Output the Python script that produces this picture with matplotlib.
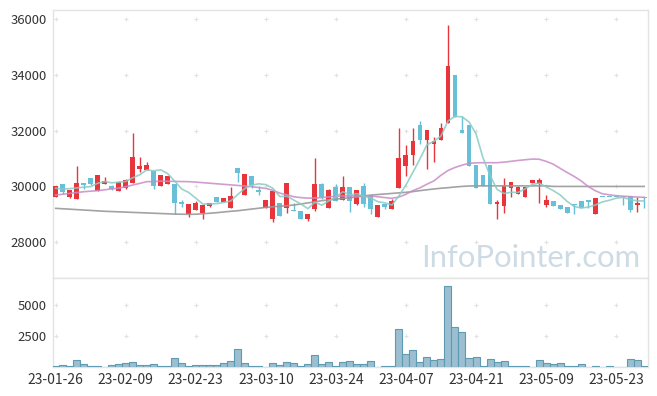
import matplotlib
matplotlib.use("Agg")
import matplotlib.pyplot as plt
import numpy as np
import pandas as pd

# ---- data ----
tick_labels = ['23-01-26', '23-02-09', '23-02-23', '23-03-10', '23-03-24',
               '23-04-07', '23-04-21', '23-05-09', '23-05-23']
tick_pos = [0, 10, 20, 30, 40, 50, 60, 70, 80]

opens = [29620, 30070, 29635, 29560, 30135, 30300, 29840, 30100, 30020, 29850,
         29930, 30135, 30625, 30590, 30565, 30000, 30075, 30090, 29430, 29000,
         29155, 29060, 29300, 29610, 29455, 29240, 30650, 29705, 30370, 29885,
         29240, 28825, 29395, 29240, 29155, 29120, 28825, 29190, 30090, 29240,
         29980, 29515, 29980, 29385, 30020, 29695, 28920, 29385, 29180, 29955,
         30745, 31115, 32200, 31665, 31510, 31665, 32285, 33990, 32020, 32200,
         30770, 30410, 30770, 29360, 29300, 29955, 29730, 29635, 30135, 30075,
         29325, 29480, 29325, 29255, 29360, 29480, 29515, 29000, 29620, 29620,
         29620, 29640, 29660, 29345, 29620]
closes = [30000, 29810, 29875, 30135, 30050, 30100, 30410, 30185, 29900, 30160,
          30230, 31070, 30730, 30770, 30000, 30410, 30370, 29395, 29360, 29370,
          29395, 29325, 29395, 29445, 29575, 29660, 30495, 30460, 30040, 29815,
          29515, 29850, 28955, 30115, 29110, 28825, 29015, 30090, 29610, 29875,
          29490, 29980, 29490, 29875, 29385, 29180, 29335, 29275, 29490, 31030,
          31125, 31630, 31665, 32020, 31640, 32085, 34315, 32500, 31930, 30730,
          29955, 30000, 29360, 29430, 30000, 30160, 29980, 29980, 30230, 30230,
          29515, 29315, 29205, 29060, 29325, 29240, 29455, 29575, 29620, 29620,
          29620, 29620, 29155, 29405, 29600]
highs = [30000, 30070, 29875, 30730, 30135, 30300, 30410, 30350, 30060, 30200,
         30250, 31900, 31045, 30890, 30565, 30410, 30370, 30090, 29515, 29370,
         29470, 29325, 29395, 29610, 29600, 29990, 30650, 30460, 30370, 30020,
         29515, 29850, 29395, 30115, 29395, 29120, 29015, 31020, 30120, 29900,
         30090, 30375, 29980, 29875, 30135, 29695, 29335, 29385, 29560, 32085,
         31475, 32085, 32345, 32020, 31785, 32265, 35785, 33990, 32525, 32200,
         30770, 30410, 30770, 29515, 30290, 30160, 30030, 29980, 30230, 30290,
         29695, 29480, 29325, 29255, 29360, 29480, 29515, 29575, 29620, 29620,
         29620, 29640, 29660, 29610, 29620]
lows = [29620, 29730, 29600, 29560, 29900, 30050, 29840, 30100, 29860, 29850,
        29900, 30135, 30530, 30590, 29900, 30000, 30075, 29000, 29255, 28920,
        29155, 28825, 29250, 29445, 29455, 29240, 30150, 29705, 29935, 29695,
        29240, 28725, 28955, 29060, 29110, 28825, 28770, 29120, 29540, 29240,
        29490, 29515, 29085, 29330, 29255, 29000, 28920, 29180, 29180, 29955,
        30365, 30780, 31510, 30635, 30890, 31665, 32285, 32500, 31930, 30730,
        29955, 30000, 29360, 28825, 29040, 29610, 29730, 29635, 30135, 29420,
        29255, 29315, 29205, 29060, 29010, 29240, 29215, 29000, 29620, 29620,
        29620, 29335, 29100, 29080, 29215]
volumes = [50, 190, 80, 590, 240, 80, 80, 20, 160, 240,
           320, 400, 160, 160, 240, 80, 80, 725, 320, 80,
           160, 160, 160, 160, 320, 485, 1450, 320, 80, 80,
           20, 320, 160, 400, 320, 80, 240, 970, 240, 400,
           80, 400, 485, 240, 240, 485, 10, 80, 80, 3065,
           1050, 1370, 400, 805, 565, 645, 6555, 3225, 2820, 725,
           805, 80, 645, 400, 485, 80, 80, 80, 10, 565,
           320, 240, 320, 80, 80, 240, 10, 80, 0, 80,
           0, 10, 645, 565, 80]
ma5_head = [29935, 29910, 29920, 29945]
ma20 = [29690, 29720, 29750, 29780, 29810, 29830, 29850, 29880, 29910, 29940,
        29990, 30050, 30110, 30170, 30175, 30190, 30185, 30180, 30175, 30170,
        30155, 30135, 30115, 30095, 30075, 30055, 30035, 30015, 29990, 29960,
        29930, 29860, 29760, 29700, 29630, 29600, 29580, 29585, 29600, 29625,
        29645, 29660, 29660, 29660, 29660, 29655, 29630, 29600, 29575, 29620,
        29720, 29850, 29950, 30080, 30200, 30400, 30570, 30680, 30760, 30830,
        30845, 30850, 30850, 30850, 30870, 30900, 30930, 30955, 30980, 30975,
        30900, 30800, 30650, 30500, 30360, 30200, 30000, 29850, 29740, 29700,
        29670, 29650, 29635, 29620, 29610]
ma60 = [29215, 29200, 29185, 29170, 29155, 29140, 29125, 29110, 29100, 29090,
        29080, 29070, 29060, 29050, 29040, 29030, 29020, 29010, 29005, 29000,
        29005, 29020, 29040, 29060, 29085, 29110, 29130, 29160, 29190, 29220,
        29250, 29270, 29290, 29310, 29335, 29370, 29410, 29450, 29490, 29520,
        29545, 29570, 29595, 29620, 29660, 29690, 29710, 29730, 29750, 29770,
        29790, 29815, 29850, 29880, 29910, 29935, 29955, 29980, 30000, 30015,
        30020, 30020, 30020, 30020, 30020, 30020, 30020, 30020, 30020, 30020,
        30020, 30000, 30000, 30000, 30000, 30000, 30000, 30000, 30000, 30000,
        30000, 30000, 30000, 30000, 30000]

UP = '#e8353b'
DOWN = '#68c0d8'
GRID = '#e2e2e2'
EDGE = '#e3e3e3'
TXT = '#333333'

plt.rcParams['font.family'] = ['Noto Sans CJK KR', 'DejaVu Sans']

n = len(closes)
x = np.arange(n)
o = np.array(opens); c = np.array(closes)
h = np.array(highs); l = np.array(lows)
ma5 = pd.Series(closes).rolling(5).mean().values
ma5[:4] = ma5_head

fig = plt.figure(figsize=(6.57, 3.96), dpi=100)
ax = fig.add_axes([52.5 / 657, 1 - 278 / 396, 595.5 / 657, 268 / 396])
axv = fig.add_axes([52.5 / 657, 1 - 367 / 396, 595.5 / 657, 89 / 396])

# candles (red = up, blue = down)
cols = np.where(c > o, UP, DOWN)
ax.vlines(x, l, h, colors=cols, linewidth=1.0, zorder=2)
body_lo = np.minimum(o, c)
body_h = np.maximum(np.abs(c - o), 25)
ax.bar(x, body_h, bottom=body_lo, width=0.7, color=cols, linewidth=0, zorder=3)

# moving averages
ax.plot(x, ma60, color='#999999', lw=1.2, alpha=0.9, zorder=4)
ax.plot(x, ma20, color='#c98cc6', lw=1.2, alpha=0.85, zorder=4)
ax.plot(x, ma5, color='#88cbc4', lw=1.2, alpha=0.85, zorder=5)

# volume
axv.bar(x, volumes, width=1.0, color='#9bbfd0', edgecolor='#5f9ab3', linewidth=0.8, zorder=3)

ax.set_xlim(-0.45, 84.55)
axv.set_xlim(-0.45, 84.55)
ax.set_ylim(26720, 36320)
axv.set_ylim(0, 7180)

price_ticks = [28000, 30000, 32000, 34000, 36000]
vol_ticks = [2500, 5000]
ax.set_yticks(price_ticks)
ax.set_yticklabels([str(t) for t in price_ticks])
axv.set_yticks(vol_ticks)
axv.set_yticklabels([str(t) for t in vol_ticks])
ax.set_xticks([])
axv.set_xticks(tick_pos)
axv.set_xticklabels(tick_labels)

# grid drawn as small crosses
gx, gy = np.meshgrid(tick_pos, price_ticks)
ax.plot(gx.ravel(), gy.ravel(), '+', color=GRID, ms=3.5, mew=0.8, zorder=1)
gx, gy = np.meshgrid(tick_pos, vol_ticks)
axv.plot(gx.ravel(), gy.ravel(), '+', color=GRID, ms=3.5, mew=0.8, zorder=1)

for a in (ax, axv):
    a.tick_params(length=0, labelsize=9.4, colors=TXT, pad=4)
    for s in a.spines.values():
        s.set_color(EDGE)
        s.set_linewidth(1.0)
axv.tick_params(axis='x', labelsize=10)

ax.text(421 / 657, 1 - 267 / 396, 'InfoPointer.com', transform=fig.transFigure,
        fontsize=22.3, family='Lato', color='#c8d7e3', alpha=0.9,
        ha='left', va='baseline', zorder=0)

fig.savefig('out.png', dpi=100)
